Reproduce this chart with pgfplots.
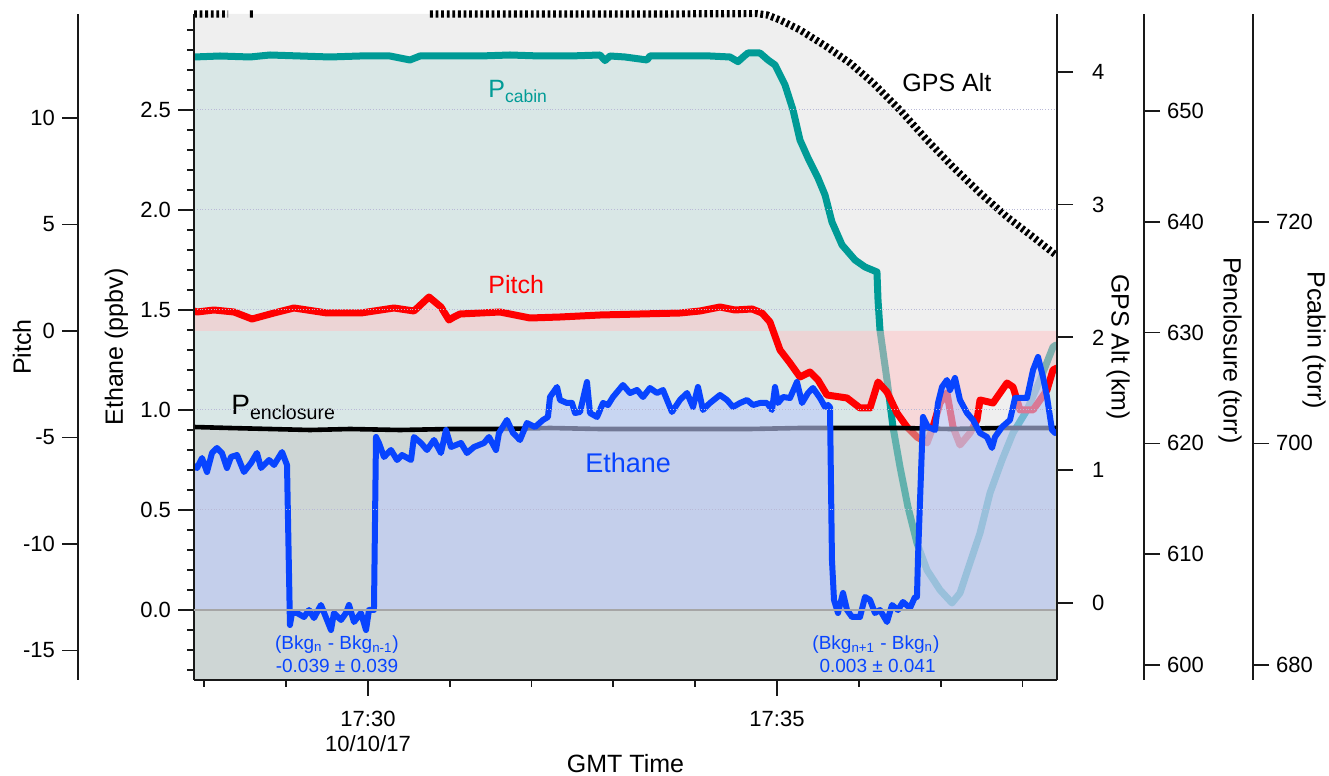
\documentclass[border=0pt]{standalone}
\usepackage{pgfplots}
\pgfplotsset{compat=1.18}
\usepackage{pgfplotstable}
\usepackage{fontspec}
\setmainfont{Liberation Sans}

\definecolor{tealc}{RGB}{0,155,150}
\definecolor{redc}{RGB}{255,0,0}
\definecolor{bluec}{RGB}{8,68,255}
\definecolor{gpsfill}{RGB}{239,239,239}
\definecolor{pitchfill}{RGB}{255,195,197}
\definecolor{pencfill}{RGB}{197,199,197}
\definecolor{ethfill}{RGB}{190,203,251}
\definecolor{axcol}{RGB}{25,25,25}
\definecolor{gridc}{RGB}{185,185,215}

\newcommand{\tickfont}{\fontsize{11}{12.5}\selectfont}
\newcommand{\labfont}{\fontsize{12.5}{14}\selectfont}

% Ethane (ppbv) vs time (minutes after 17:00 GMT)
\pgfplotstableread{
t v
27.873 0.720
27.910 0.710
27.971 0.760
28.032 0.690
28.093 0.785
28.154 0.810
28.215 0.785
28.276 0.710
28.325 0.765
28.399 0.775
28.484 0.690
28.570 0.735
28.643 0.785
28.692 0.710
28.790 0.750
28.851 0.725
28.949 0.790
29.010 0.725
29.046 -0.075
29.071 -0.015
29.132 -0.015
29.218 -0.035
29.279 0.000
29.340 -0.040
29.425 0.025
29.499 -0.050
29.548 -0.100
29.584 -0.015
29.670 -0.050
29.731 -0.015
29.768 0.025
29.829 -0.060
29.914 -0.015
29.976 -0.100
30.012 0.000
30.073 0.000
30.098 0.865
30.134 0.835
30.196 0.765
30.281 0.800
30.355 0.750
30.416 0.775
30.526 0.750
30.562 0.865
30.648 0.835
30.721 0.800
30.807 0.850
30.892 0.785
30.954 0.900
31.015 0.815
31.137 0.835
31.210 0.785
31.296 0.815
31.418 0.835
31.479 0.865
31.565 0.800
31.601 0.885
31.699 0.950
31.773 0.885
31.858 0.850
31.944 0.935
32.042 0.915
32.139 0.950
32.200 0.965
32.225 1.065
32.311 1.115
32.347 1.050
32.433 1.035
32.494 1.035
32.531 0.985
32.592 0.990
32.677 1.140
32.714 0.985
32.800 0.965
32.873 1.035
32.934 1.025
32.995 1.065
33.117 1.125
33.203 1.085
33.289 1.100
33.362 1.065
33.447 1.110
33.533 1.085
33.606 1.100
33.716 0.990
33.814 1.050
33.900 1.085
33.973 1.015
34.034 1.115
34.095 1.000
34.181 1.035
34.303 1.075
34.389 1.050
34.462 1.015
34.548 1.035
34.633 1.050
34.707 1.025
34.792 1.035
34.878 1.035
34.939 1.000
34.976 1.115
35.012 1.035
35.073 1.065
35.159 1.060
35.244 1.140
35.306 1.035
35.379 1.085
35.440 1.110
35.526 1.060
35.587 1.015
35.623 1.025
35.648 1.015
35.672 0.250
35.697 0.050
35.746 -0.015
35.807 0.085
35.856 0.000
35.917 -0.035
36.015 -0.035
36.076 0.065
36.137 0.050
36.198 -0.015
36.259 0.000
36.345 -0.060
36.406 0.025
36.479 0.000
36.540 0.040
36.626 0.010
36.687 0.065
36.711 0.065
36.724 0.265
36.785 0.965
36.846 0.915
36.932 0.900
36.968 1.035
37.017 1.115
37.078 1.150
37.115 1.100
37.176 1.160
37.237 1.050
37.323 0.985
37.396 0.950
37.482 0.885
37.567 0.865
37.628 0.810
37.665 0.865
37.751 0.915
37.848 0.950
37.910 1.060
38.056 1.060
38.130 1.200
38.191 1.265
38.252 1.165
38.301 1.065
38.362 0.900
38.399 0.885
}\ethdata

% Pitch (deg)
\pgfplotstableread{
t v
27.873 0.939
27.910 0.892
28.117 0.986
28.362 0.892
28.582 0.563
28.851 0.845
29.095 1.080
29.499 0.845
29.914 0.845
30.318 1.080
30.562 0.939
30.746 1.596
30.892 1.127
30.990 0.516
31.051 0.657
31.125 0.798
31.614 0.892
31.980 0.610
32.347 0.657
32.836 0.751
33.325 0.798
33.814 0.845
34.059 0.939
34.303 1.127
34.487 0.986
34.694 1.033
34.817 0.845
34.914 0.423
35.037 -0.892
35.159 -1.502
35.281 -2.160
35.403 -1.925
35.501 -2.300
35.611 -3.005
35.856 -3.146
36.015 -3.615
36.137 -3.615
36.235 -2.394
36.345 -2.864
36.467 -3.850
36.589 -4.507
36.711 -4.977
36.834 -5.258
36.907 -4.507
36.993 -3.380
37.078 -2.911
37.152 -4.507
37.237 -5.352
37.359 -4.789
37.445 -4.178
37.482 -3.239
37.641 -3.380
37.812 -2.441
37.885 -2.629
37.971 -3.709
38.130 -3.709
38.301 -2.770
38.374 -1.831
38.423 -1.737
}\pitchdata

% Pcabin (torr)
\pgfplotstableread{
t v
27.873 734.87
28.191 734.96
28.557 734.87
28.802 735.05
29.169 734.96
29.535 734.87
29.902 734.96
30.269 734.96
30.513 734.60
30.636 734.96
31.002 734.96
31.369 734.96
31.736 735.05
32.103 734.96
32.469 734.96
32.836 735.05
32.897 734.55
32.960 734.96
33.142 734.87
33.411 734.60
33.447 734.96
33.814 734.96
34.181 734.96
34.425 734.87
34.523 734.45
34.600 734.96
34.645 735.23
34.792 735.23
34.890 734.60
34.976 734.15
35.098 732.35
35.196 730.09
35.281 727.38
35.379 725.76
35.501 723.95
35.587 722.42
35.672 719.98
35.795 717.91
35.954 716.55
36.076 715.92
36.222 715.47
36.235 712.94
36.259 710.23
36.345 705.72
36.418 701.48
36.504 697.87
36.601 694.26
36.711 691.01
36.834 688.57
36.993 686.77
37.139 685.60
37.237 686.50
37.359 689.21
37.482 691.91
37.604 695.52
37.751 698.50
37.885 700.94
38.056 703.01
38.215 705.72
38.374 708.70
38.411 708.88
}\pcabindata

% Penclosure (torr)
\pgfplotstableread{
t v
27.873 621.48
28.313 621.39
28.802 621.30
29.291 621.21
29.780 621.30
30.391 621.21
31.002 621.30
31.614 621.30
32.225 621.39
32.836 621.30
33.447 621.30
34.059 621.30
34.670 621.30
35.281 621.39
35.892 621.39
36.504 621.39
37.115 621.30
37.726 621.39
38.423 621.39
}\pencdata

% GPS altitude (km)
\pgfplotstableread{
t v
27.873 4.435
28.289 4.435
28.400 nan
28.557 4.435
28.606 4.435
28.700 nan
30.758 4.435
31.500 4.435
32.500 4.435
33.500 4.435
34.756 4.438
34.878 4.428
35.037 4.390
35.281 4.315
35.611 4.187
35.892 4.066
36.174 3.916
36.504 3.712
36.834 3.486
37.152 3.283
37.482 3.087
37.812 2.907
38.130 2.756
38.362 2.643
38.411 2.620
}\gpsdata

\pgfplotsset{
  base/.style={scale only axis, width=431.5pt, height=333pt,
    xmin=27.873, xmax=38.423, anchor=south west},
  data/.style={base, at={(0,0)}, hide axis},
  deco/.style={base, hide x axis,
    axis line style={-, line width=0.9pt, color=axcol},
    tick align=outside, major tick length=8pt,
    every tick/.style={line width=0.9pt, color=axcol},
    tick label style={font=\tickfont}},
}

\begin{document}
\begin{tikzpicture}

% GPS Alt: fill + dashed line
\begin{axis}[data, ymin=-0.580, ymax=4.435, clip=false, unbounded coords=jump]
  \addplot[draw=none, fill=gpsfill] coordinates {
    (27.873,-0.580) (27.873,4.435) (34.756,4.435) (34.878,4.428) (35.037,4.390)
    (35.281,4.315) (35.611,4.187) (35.892,4.066) (36.174,3.916) (36.504,3.712)
    (36.834,3.486) (37.152,3.283) (37.482,3.087) (37.812,2.907) (38.130,2.756)
    (38.362,2.643) (38.423,2.615) (38.423,-0.580)};
  \addplot[black, line width=3.6pt, dash pattern=on 1.4pt off 1.4pt] table {\gpsdata};
\end{axis}

% Pcabin
\begin{axis}[data, ymin=678.65, ymax=738.75]
  \addplot[draw=none, fill=tealc, fill opacity=0.092] table {\pcabindata} \closedcycle;
  \addplot[tealc, line width=3.5pt, line join=round, line cap=round] table {\pcabindata};
\end{axis}

% Pitch
\begin{axis}[data, ymin=-16.385, ymax=14.883]
  \addplot[draw=none, fill=pitchfill, fill opacity=0.5] table {\pitchdata} \closedcycle;
  \addplot[redc, line width=3.5pt, line join=round, line cap=round] table {\pitchdata};
\end{axis}

% Penclosure
\begin{axis}[data, ymin=598.65, ymax=658.75]
  \addplot[draw=none, fill=pencfill, fill opacity=0.5] table {\pencdata} \closedcycle;
  \addplot[black, line width=2.3pt, line join=round] table {\pencdata};
\end{axis}

% Ethane (main axis)
\begin{axis}[base, at={(0,0)}, ymin=-0.35, ymax=2.98,
  axis x line*=bottom, axis y line*=left,
  axis line style={-, line width=0.9pt, color=axcol},
  axis on top,
  tick align=outside, major tick length=8pt, minor tick length=3.5pt,
  every tick/.style={line width=0.9pt, color=axcol},
  tick label style={font=\tickfont},
  ytick={0,0.5,1,1.5,2,2.5}, yticklabels={0.0,0.5,1.0,1.5,2.0,2.5},
  minor ytick={-0.3,-0.2,-0.1,0.1,0.2,0.3,0.4,0.6,0.7,0.8,0.9,1.1,1.2,1.3,1.4,1.6,1.7,1.8,1.9,2.1,2.2,2.3,2.4,2.6,2.7,2.8,2.9},
  xtick={30,35}, xticklabels={{17:30\\10/10/17},{17:35}},
  minor xtick={28,29,31,32,33,34,36,37,38},
  xticklabel style={align=center, yshift=-4pt},
  ymajorgrids, major grid style={densely dotted, gridc, line width=0.5pt},
  extra y ticks={0}, extra y tick labels={},
  extra y tick style={grid=major, major grid style={solid, color=gray!70, line width=0.7pt}},
  xlabel={GMT Time}, ylabel={Ethane (ppbv)},
  every axis x label/.style={at={(axis description cs:0.5,-0.1255)}, anchor=center, font=\labfont},
  every axis y label/.style={at={(axis description cs:-0.090,0.5)}, anchor=center, rotate=90, font=\labfont}]
  \addplot[draw=none, fill=ethfill, fill opacity=0.6] table {\ethdata} \closedcycle;
  \addplot[bluec, line width=3pt, line join=round, line cap=round] table {\ethdata};

  \node[inner sep=0pt, anchor=base west, font=\fontsize{12.5}{14}\selectfont] at (axis cs:36.528,2.59) {GPS Alt};
  \node[inner sep=0pt, anchor=base west, font=\fontsize{12.5}{14}\selectfont, text=tealc] at (axis cs:31.467,2.56) {P\textsubscript{cabin}};
  \node[inner sep=0pt, anchor=base west, font=\fontsize{12.5}{14}\selectfont, text=redc] at (axis cs:31.467,1.58) {Pitch};
  \node[inner sep=0pt, anchor=base west, font=\fontsize{14}{16}\selectfont] at (axis cs:28.325,0.975) {P\textsubscript{enclosure}};
  \node[inner sep=0pt, anchor=base west, font=\fontsize{13.5}{15}\selectfont, text=bluec] at (axis cs:32.653,0.685) {Ethane};
  \node[inner sep=0pt, anchor=base, font=\fontsize{9.5}{11}\selectfont, text=bluec] at (axis cs:29.621,-0.200) {(Bkg\textsubscript{n} - Bkg\textsubscript{n-1})};
  \node[inner sep=0pt, anchor=base, font=\fontsize{9.5}{11}\selectfont, text=bluec] at (axis cs:29.621,-0.315) {-0.039 ± 0.039};
  \node[inner sep=0pt, anchor=base, font=\fontsize{9.5}{11}\selectfont, text=bluec] at (axis cs:36.210,-0.200) {(Bkg\textsubscript{n+1} - Bkg\textsubscript{n})};
  \node[inner sep=0pt, anchor=base, font=\fontsize{9.5}{11}\selectfont, text=bluec] at (axis cs:36.230,-0.315) {0.003 ± 0.041};
\end{axis}

% GPS Alt axis (right edge of plot)
\begin{axis}[deco, at={(0,0)}, axis y line*=right, ymin=-0.580, ymax=4.435,
  ytick={0,1,2,3,4}, yticklabels={0,1,2,3,4},
  yticklabel style={xshift=6pt},
  ylabel={GPS Alt (km)},
  every axis y label/.style={at={(axis description cs:1.0707,0.5)}, anchor=center, rotate=-90, font=\labfont}]
\end{axis}

% Pitch axis (far left)
\begin{axis}[deco, at={(-58pt,0)}, axis y line*=left, ymin=-16.385, ymax=14.883,
  ytick={-15,-10,-5,0,5,10}, yticklabels={-15,-10,-5,0,5,10},
  ylabel={Pitch},
  every axis y label/.style={at={(axis description cs:-0.0649,0.5)}, anchor=center, rotate=90, font=\labfont}]
\end{axis}

% Penclosure axis
\begin{axis}[deco, at={(43.5pt,0)}, axis y line*=right, ymin=598.65, ymax=658.75,
  ytick={600,610,620,630,640,650}, yticklabels={600,610,620,630,640,650},
  ylabel={Penclosure (torr)},
  every axis y label/.style={at={(axis description cs:1.0997,0.495)}, anchor=center, rotate=-90, font=\labfont}]
\end{axis}

% Pcabin axis
\begin{axis}[deco, at={(98pt,0)}, axis y line*=right, ymin=678.65, ymax=738.75,
  ytick={680,700,720}, yticklabels={680,700,720},
  ylabel={Pcabin (torr)},
  every axis y label/.style={at={(axis description cs:1.0707,0.51)}, anchor=center, rotate=-90, font=\labfont}]
\end{axis}

\pgfresetboundingbox
\path[use as bounding box] (-97pt,-48pt) rectangle (567.5pt,340pt);
\end{tikzpicture}
\end{document}
